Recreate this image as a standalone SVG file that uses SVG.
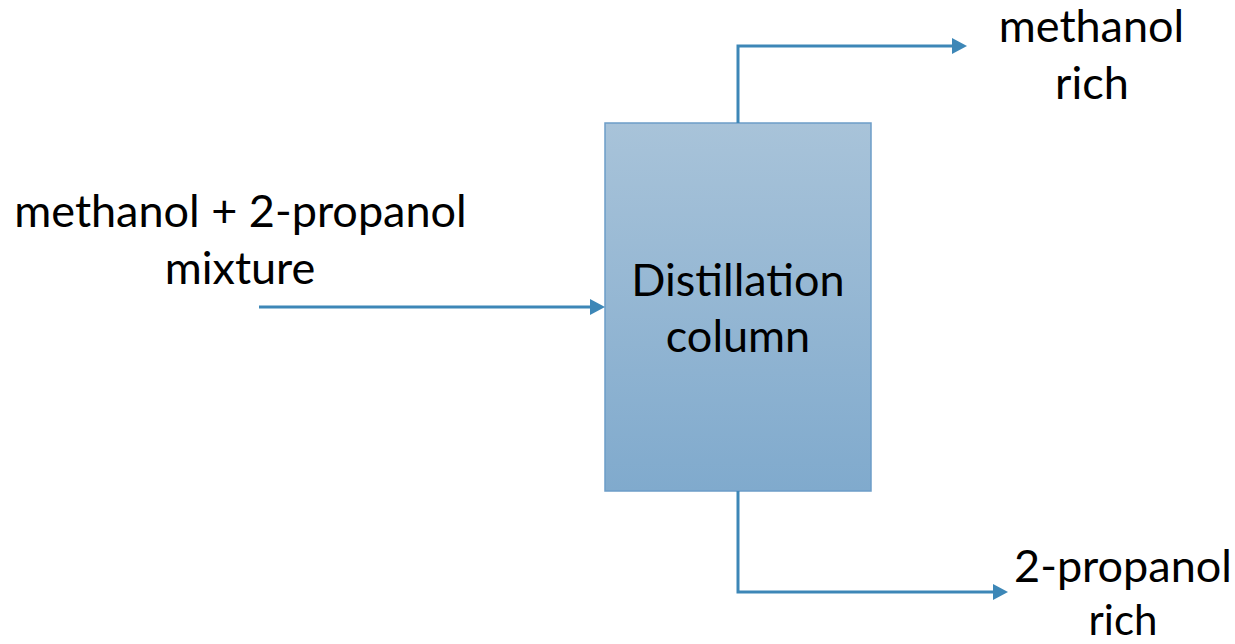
<svg xmlns="http://www.w3.org/2000/svg" width="1235" height="644" viewBox="0 0 1235 644">
  <style>
    .lbl { font-family: Lato, "Open Sans", "Liberation Sans", sans-serif; font-size: 45px; fill: #000; text-anchor: middle; }
    .small { font-size: 42px; }
    .conn { fill: none; stroke: #3d87b7; stroke-width: 3; }
  </style>
  <defs>
    <linearGradient id="boxFill" x1="0" y1="0" x2="0" y2="1">
      <stop offset="0" stop-color="#a8c3d9"/>
      <stop offset="1" stop-color="#80aacd"/>
    </linearGradient>
    <marker id="arrow" markerUnits="userSpaceOnUse" markerWidth="16" markerHeight="17" refX="1" refY="8" orient="auto">
      <path d="M0,0 L15,8 L0,16 z" fill="#3d87b7"/>
    </marker>
  </defs>
  <g id="column">
    <rect x="605" y="123" width="266" height="368" fill="url(#boxFill)" stroke="#6c9dc8" stroke-width="1.5"/>
    <text class="lbl" x="738" y="296">Distillation</text>
    <text class="lbl" x="738" y="352">column</text>
  </g>
  <g id="feed">
    <text class="lbl" x="240.5" y="227">methanol + 2-propanol</text>
    <text class="lbl" x="240" y="284">mixture</text>
  </g>
  <g id="top-product">
    <text class="lbl" x="1091.5" y="42">methanol</text>
    <text class="lbl" x="1092" y="99">rich</text>
  </g>
  <g id="bottom-product">
    <text class="lbl" x="1123" y="582">2-propanol</text>
    <text class="lbl small" x="1123" y="635">rich</text>
  </g>
  <g id="connectors">
    <path class="conn" d="M259,307 H591" marker-end="url(#arrow)"/>
    <path class="conn" d="M738,123 V46 H953" marker-end="url(#arrow)"/>
    <path class="conn" d="M738,491 V592 H994" marker-end="url(#arrow)"/>
  </g>
</svg>
